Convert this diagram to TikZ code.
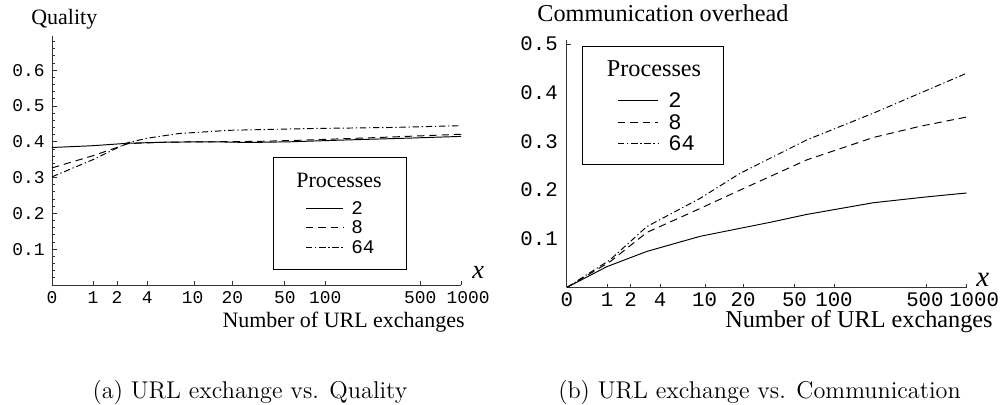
\documentclass[tikz,border=0pt]{standalone}
\usepackage{fontspec}
\newfontfamily\serifT{Liberation Serif}
\newfontfamily\monoT{Liberation Mono}
\tikzset{
  axisline/.style={line width=0.5pt, black!80},
  tickline/.style={line width=0.45pt, black!80},
  solidcurve/.style={line width=0.55pt, black, line join=round},
  dashcurve/.style={line width=0.55pt, black, line join=round, dash pattern=on 4.2pt off 2.8pt},
  dotdashcurve/.style={line width=0.55pt, black, line join=round, dash pattern=on 3.6pt off 1.6pt on 0.7pt off 1.6pt},
  legendbox/.style={line width=0.55pt, black},
  ticklabA/.style={inner sep=0pt, font=\monoT\fontsize{10.2}{12}\selectfont},
  ticklabB/.style={inner sep=0pt, font=\monoT\fontsize{11.8}{14}\selectfont},
  keyA/.style={inner sep=0pt, anchor=west, font=\monoT\fontsize{11}{13}\selectfont},
  keyB/.style={inner sep=0pt, anchor=west, font=\monoT\fontsize{12.6}{15}\selectfont},
  titleA/.style={inner sep=0pt, font=\serifT\fontsize{12.5}{15}\selectfont},
  titleB/.style={inner sep=0pt, font=\serifT\fontsize{13.8}{16}\selectfont},
  axisname/.style={anchor=base east, text height=0.66em, text depth=0.2em},
  varA/.style={inner sep=0pt, anchor=base west, font=\serifT\itshape\fontsize{15}{17}\selectfont},
  varB/.style={inner sep=0pt, anchor=base west, font=\serifT\itshape\fontsize{16.5}{18}\selectfont},
  caption/.style={inner sep=0pt, font=\fontsize{13.8}{16}\selectfont},
}
\begin{document}
\begin{tikzpicture}[x=0.02cm, y=-0.02cm]
\useasboundingbox (0,0) rectangle (1004,405);

% ---------------- (a) quality ----------------
\begin{scope}[shift={(1.04cm,-5.70cm)}, x=2.728cm, y=7.16cm]
  \draw[axisline] (0,0) -- (3,0);
  \draw[axisline] (0,0) -- (0,0.695);
  \foreach \n in {1,2,4,10,20,50,100,500,1000}
    \draw[tickline] ({log10(1+\n)},0) -- ++(0,2.2pt);
  \foreach \k in {1,...,34}
    \draw[tickline] (0,\k*0.02) -- ++(1.6pt,0);
  \foreach \k in {1,...,6}
    \draw[tickline] (0,\k*0.1) -- ++(3pt,0);
  \foreach \n/\dx in {0/0,1/0,2/0,4/0,10/-0.8,20/0,50/0,100/0,500/0,1000/4}
    \node[ticklabA, yshift=-7.1pt, xshift=\dx pt] (ax\n) at ({log10(1+\n)},0) {\n};
  \foreach \v in {1,...,6}
    \node[ticklabA, anchor=east, xshift=-4pt] (ay\v) at (0,\v/10) {0.\v};
  % curves
  \draw[solidcurve] plot coordinates {(0,.384) (0.30,.389) (0.56,.396) (0.85,.399) (1.17,.400) (1.45,.398) (1.75,.400) (2.15,.405) (2.6,.410) (3,.415)};
  \draw[dashcurve] plot coordinates {(0,.327) (0.30,.361) (0.56,.395) (0.85,.399) (1.17,.400) (1.5,.401) (1.8,.404) (2.4,.412) (3,.421)};
  \draw[dotdashcurve] plot coordinates {(0,.302) (0.30,.350) (0.56,.398) (0.70,.410) (0.93,.423) (1.3,.432) (1.9,.437) (2.5,.440) (3,.445)};
\end{scope}

\node[titleA, anchor=base west] (qlab) at (31,25) {Quality};
\node[varA] (xa) at (472,278) {x};
\node[titleA, axisname] (nla) at (465,327) {Number of URL exchanges};

% legend (a)
\draw[legendbox] (273,157) rectangle (406,269);
\node[titleA] (pa) at (339,180) {Processes};
\coordinate (la1s) at (306,208); \coordinate (la1e) at (343,208);
\coordinate (la2s) at (306,227); \coordinate (la2e) at (343,227);
\coordinate (la3s) at (306,247); \coordinate (la3e) at (343,247);
\draw[solidcurve] (la1s) -- (la1e);
\draw[dashcurve] (la2s) -- (la2e);
\draw[dotdashcurve] (la3s) -- (la3e);
\node[keyA] (ka1) at (351,208) {2};
\node[keyA] (ka2) at (351,227) {8};
\node[keyA] (ka3) at (351,247) {64};

\node[caption] (capa) at (250,392) {(a) URL exchange vs. Quality};

% ---------------- (b) communication ----------------
\begin{scope}[shift={(11.34cm,-5.75cm)}, x=2.666cm, y=9.74cm]
  \draw[axisline] (0,0) -- (3,0);
  \draw[axisline] (0,0) -- (0,0.508);
  \draw[tickline] (0,0.5) -- ++(2.2pt,0);
  \foreach \n in {1,2,4,10,20,50,100,500,1000}
    \draw[tickline] ({log10(1+\n)},0) -- ++(0,2.2pt);
  \foreach \n/\dx in {0/0,1/0,2/0,4/0,10/-0.6,20/0,50/0,100/0,500/-1,1000/4.2}
    \node[ticklabB, yshift=-7.1pt, xshift=\dx pt] (bx\n) at ({log10(1+\n)},0) {\n};
  \foreach \v in {1,...,5}
    \node[ticklabB, anchor=east, xshift=-5pt] (by\v) at (0,\v/10) {0.\v};
  % curves
  \draw[solidcurve] plot coordinates {(0,0) (0.30,0.0427) (0.60,0.074) (1.0,0.105) (1.53,0.134) (1.8,0.150) (2.3,0.174) (2.7,0.186) (3.0,0.194)};
  \draw[dashcurve] plot coordinates {(0,0) (0.325,0.053) (0.6,0.113) (0.95,0.156) (1.3,0.200) (1.8,0.262) (2.3,0.308) (2.65,0.331) (3.0,0.350)};
  \draw[dotdashcurve] plot coordinates {(0,0) (0.325,0.057) (0.6,0.125) (1.0,0.183) (1.3,0.2345) (1.8,0.303) (2.3,0.358) (2.675,0.402) (3.0,0.44)};
\end{scope}

\node[titleB, anchor=base west] (clab) at (537,21.7) {Communication overhead};
\node[varB] (xb) at (976,287) {x};
\node[titleB, axisname] (nlb) at (993,327) {Number of URL exchanges};

% legend (b)
\draw[legendbox] (582,46) rectangle (723,164);
\node[titleB] (pb) at (654,69) {Processes};
\coordinate (lb1s) at (618,100); \coordinate (lb1e) at (658,100);
\coordinate (lb2s) at (618,122); \coordinate (lb2e) at (658,122);
\coordinate (lb3s) at (618,143); \coordinate (lb3e) at (658,143);
\draw[solidcurve] (lb1s) -- (lb1e);
\draw[dashcurve] (lb2s) -- (lb2e);
\draw[dotdashcurve] (lb3s) -- (lb3e);
\node[keyB] (kb1) at (668,100) {2};
\node[keyB] (kb2) at (668,122) {8};
\node[keyB] (kb3) at (668,143) {64};

\node[caption] (capb) at (759.5,392) {(b) URL exchange vs. Communication};
\end{tikzpicture}
\end{document}
